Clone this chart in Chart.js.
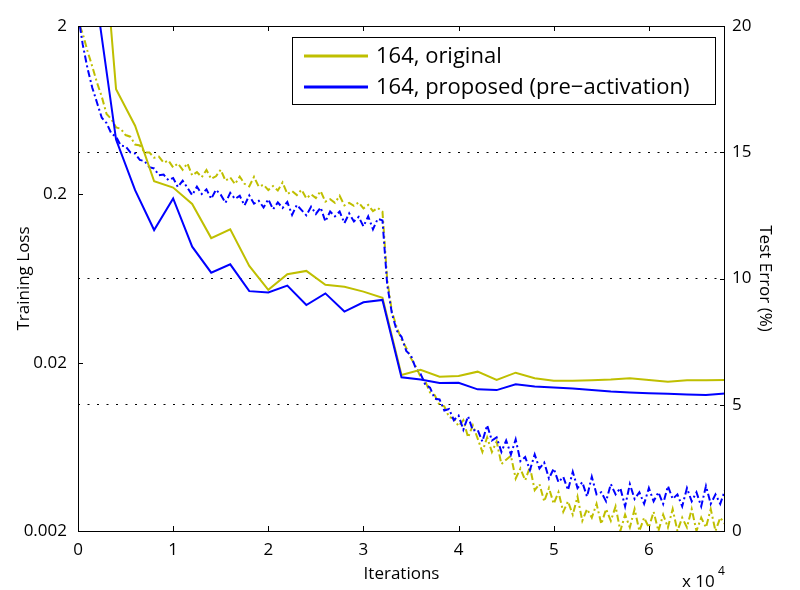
<!DOCTYPE html>
<html>
<head>
<meta charset="utf-8">
<script src="https://cdn.jsdelivr.net/npm/chart.js@4.4.1/dist/chart.umd.min.js"></script>
<style>
  html, body { margin: 0; background: #fff; }
  canvas { display: block; }
</style>
</head>
<body>
<canvas id="chart" width="800" height="590"></canvas>
<script>
// ── Data (iterations in units of 10^4) ───────────
const xTicks = [0, 1, 2, 3, 4, 5, 6];
const lossTicks = [0.002, 0.02, 0.2, 2];
const errTicks = [0, 5, 10, 15, 20];

// test error (%), sampled every 2000 iterations
const testIters = [0.2, 0.4, 0.6, 0.8, 1.0, 1.2, 1.4, 1.6, 1.8, 2.0, 2.2, 2.4, 2.6, 2.8, 3.0, 3.2, 3.4,
  3.6, 3.8, 4.0, 4.2, 4.4, 4.6, 4.8, 5.0, 5.2, 5.4, 5.6, 5.8, 6.0, 6.2, 6.4, 6.6, 6.8];
const origErr = [26.6, 17.5, 16.05, 13.85, 13.6, 12.95, 11.6, 11.95, 10.5, 9.55, 10.17, 10.3, 9.75, 9.67, 9.48, 9.24, 6.18,
  6.38, 6.11, 6.14, 6.31, 5.98, 6.27, 6.05, 5.95, 5.95, 5.97, 6.0, 6.05, 5.98, 5.91, 5.97, 5.97, 5.98];
const propErr = [20.9, 15.5, 13.5, 11.92, 13.17, 11.26, 10.23, 10.56, 9.5, 9.45, 9.72, 8.95, 9.41, 8.69, 9.06, 9.15, 6.09,
  6.0, 5.86, 5.87, 5.61, 5.58, 5.81, 5.72, 5.68, 5.64, 5.58, 5.52, 5.49, 5.46, 5.44, 5.41, 5.39, 5.45];

// training loss
const lossIters = [
  0.02, 0.05, 0.10, 0.15, 0.20, 0.25, 0.30, 0.35, 0.40, 0.45, 0.50, 0.55, 0.60, 0.65, 0.70, 0.75, 0.80, 0.85, 0.90, 0.95,
  1.00, 1.05, 1.10, 1.15, 1.20, 1.25, 1.30, 1.35, 1.40, 1.45, 1.50, 1.55, 1.60, 1.65, 1.70, 1.75, 1.80, 1.85, 1.90, 1.95,
  2.00, 2.05, 2.10, 2.15, 2.20, 2.25, 2.30, 2.35, 2.40, 2.45, 2.50, 2.55, 2.60, 2.65, 2.70, 2.75, 2.80, 2.85, 2.90, 2.95,
  3.00, 3.05, 3.10, 3.15, 3.20, 3.25, 3.30, 3.35, 3.40, 3.45, 3.50, 3.55, 3.60, 3.65, 3.70, 3.75, 3.80, 3.85, 3.90, 3.95,
  4.00, 4.05, 4.10, 4.15, 4.20, 4.25, 4.30, 4.35, 4.40, 4.45, 4.50, 4.55, 4.60, 4.65, 4.70, 4.75, 4.80, 4.85, 4.90, 4.95,
  5.00, 5.05, 5.10, 5.15, 5.20, 5.25, 5.30, 5.35, 5.40, 5.45, 5.50, 5.55, 5.60, 5.65, 5.70, 5.75, 5.80, 5.85, 5.90, 5.95,
  6.00, 6.05, 6.10, 6.15, 6.20, 6.25, 6.30, 6.35, 6.40, 6.45, 6.50, 6.55, 6.60, 6.65, 6.70, 6.75, 6.80,
];
const origLoss = [
  2.0, 1.8, 1.42, 1.15, 0.92, 0.76, 0.6, 0.56, 0.5, 0.49, 0.45, 0.44, 0.395, 0.39, 0.355, 0.355, 0.33, 0.335, 0.308, 0.318,
  0.289, 0.305, 0.28, 0.306, 0.259, 0.271, 0.253, 0.279, 0.247, 0.256, 0.28, 0.241, 0.252, 0.23, 0.255, 0.231, 0.223, 0.254, 0.222, 0.228,
  0.212, 0.224, 0.211, 0.235, 0.201, 0.209, 0.198, 0.213, 0.189, 0.2, 0.19, 0.209, 0.181, 0.187, 0.178, 0.196, 0.172, 0.178, 0.171, 0.179,
  0.165, 0.173, 0.159, 0.166, 0.158, 0.062, 0.04, 0.0325, 0.0275, 0.0245, 0.0212, 0.019, 0.0165, 0.0155, 0.0133, 0.0128, 0.0112, 0.011, 0.0095, 0.0093,
  0.0084, 0.0091, 0.0072, 0.0085, 0.0071, 0.0059, 0.0072, 0.0059, 0.0068, 0.005, 0.0053, 0.0056, 0.0041, 0.0047, 0.004, 0.0048, 0.0035, 0.0038, 0.003, 0.0036,
  0.0029, 0.0034, 0.0026, 0.003, 0.0025, 0.0032, 0.0023, 0.0027, 0.0024, 0.0029, 0.0022, 0.0027, 0.0023, 0.0028, 0.002, 0.0025, 0.0021, 0.0027, 0.002, 0.0024,
  0.0021, 0.0026, 0.002, 0.0025, 0.0021, 0.0027, 0.002, 0.0024, 0.0021, 0.0027, 0.002, 0.0024, 0.0021, 0.0027, 0.002, 0.0024, 0.0022,
];
const propLoss = [
  2.0, 1.55, 1.12, 0.86, 0.70, 0.57, 0.53, 0.46, 0.44, 0.39, 0.385, 0.355, 0.35, 0.32, 0.315, 0.29, 0.285, 0.26, 0.262, 0.243,
  0.25, 0.221, 0.241, 0.219, 0.198, 0.222, 0.201, 0.214, 0.188, 0.213, 0.199, 0.178, 0.204, 0.188, 0.196, 0.172, 0.197, 0.176, 0.183, 0.167,
  0.187, 0.163, 0.179, 0.166, 0.18, 0.151, 0.173, 0.161, 0.15, 0.169, 0.153, 0.167, 0.138, 0.158, 0.148, 0.158, 0.135, 0.154, 0.138, 0.147,
  0.129, 0.148, 0.124, 0.143, 0.14, 0.058, 0.039, 0.031, 0.0285, 0.0235, 0.022, 0.0185, 0.0172, 0.0148, 0.0142, 0.0122, 0.0121, 0.0104, 0.0106, 0.0091,
  0.0097, 0.008, 0.0096, 0.0079, 0.008, 0.0068, 0.0085, 0.0069, 0.0072, 0.0059, 0.0069, 0.0057, 0.007, 0.0052, 0.0055, 0.0046, 0.0057, 0.0047, 0.0051, 0.0041,
  0.0047, 0.0039, 0.0042, 0.0035, 0.0045, 0.0036, 0.0039, 0.0032, 0.0042, 0.0033, 0.0034, 0.003, 0.0038, 0.0033, 0.0036, 0.0028, 0.0038, 0.0031, 0.0034, 0.0029,
  0.0036, 0.003, 0.0034, 0.0029, 0.0037, 0.0031, 0.0033, 0.0028, 0.0036, 0.003, 0.0034, 0.0028, 0.0037, 0.0029, 0.0033, 0.0029, 0.0035,
];

const OLIVE = '#bfbf00';
const BLUE = '#0000ff';
const FONT = '"Open Sans", sans-serif';

Chart.defaults.font.family = FONT;
Chart.defaults.font.size = 17;
Chart.defaults.color = '#000';

const pts = (xs, ys) => ys.map((y, i) => ({ x: xs[i], y }));
const fixTicks = (vals) => (scale) => { scale.ticks = vals.map((v) => ({ value: v })); };

// ── Box, inward tick marks, legend, exponent ─────
const decorPlugin = {
  id: 'decor',
  afterDatasetsDraw(chart) {
    const { ctx, chartArea: a, scales } = chart;
    const len = 5;
    ctx.save();
    ctx.strokeStyle = '#000';
    ctx.lineWidth = 1;
    ctx.beginPath();
    xTicks.slice(1).forEach((v) => {
      const px = Math.round(scales.x.getPixelForValue(v)) + 0.5;
      ctx.moveTo(px, a.bottom); ctx.lineTo(px, a.bottom - len);
      ctx.moveTo(px, a.top); ctx.lineTo(px, a.top + len);
    });
    lossTicks.slice(1, -1).forEach((v) => {
      const py = Math.round(scales.y.getPixelForValue(v)) + 0.5;
      ctx.moveTo(a.left, py); ctx.lineTo(a.left + len, py);
    });
    errTicks.slice(1, -1).forEach((v) => {
      const py = Math.round(scales.y2.getPixelForValue(v)) + 0.5;
      ctx.moveTo(a.right, py); ctx.lineTo(a.right - len, py);
    });
    ctx.stroke();
    ctx.strokeRect(Math.round(a.left) + 0.5, Math.round(a.top) + 0.5,
      Math.round(a.right - a.left) - 1, Math.round(a.bottom - a.top));

    // legend
    const lx = 292, ly = 37, lw = 423, lh = 67;
    ctx.fillStyle = '#fff';
    ctx.fillRect(lx, ly, lw, lh);
    ctx.strokeRect(lx + 0.5, ly + 0.5, lw, lh);
    const entries = chart.data.datasets.filter((d) => d.showInLegend);
    entries.forEach((d, i) => {
      const y = 56 + i * 31;
      ctx.strokeStyle = d.borderColor;
      ctx.lineWidth = 3;
      ctx.beginPath();
      ctx.moveTo(304, y); ctx.lineTo(368, y);
      ctx.stroke();
      ctx.fillStyle = '#000';
      ctx.font = '22px ' + FONT;
      ctx.textBaseline = 'middle';
      ctx.textAlign = 'left';
      ctx.fillText(d.label, 376, y + 1);
    });

    // x 10^4
    ctx.fillStyle = '#000';
    ctx.textBaseline = 'alphabetic';
    ctx.font = '17px ' + FONT;
    ctx.fillText('x 10', 682, 587);
    ctx.font = '12px ' + FONT;
    ctx.fillText('4', 718, 575);
    ctx.restore();
  },
};

new Chart(document.getElementById('chart'), {
  type: 'line',
  data: {
    datasets: [
      {
        label: '164, original', showInLegend: true,
        data: pts(testIters, origErr), yAxisID: 'y2',
        borderColor: OLIVE, borderWidth: 2, pointRadius: 0, order: 1,
      },
      {
        label: '164, proposed (pre\u2212activation)', showInLegend: true,
        data: pts(testIters, propErr), yAxisID: 'y2',
        borderColor: BLUE, borderWidth: 2, pointRadius: 0, order: 0,
      },
      {
        label: 'loss original',
        data: pts(lossIters, origLoss), yAxisID: 'y',
        borderColor: OLIVE, borderWidth: 2, borderDash: [7, 3, 2, 3], pointRadius: 0, order: 3,
      },
      {
        label: 'loss proposed',
        data: pts(lossIters, propLoss), yAxisID: 'y',
        borderColor: BLUE, borderWidth: 2, borderDash: [7, 3, 2, 3], pointRadius: 0, order: 2,
      },
    ],
  },
  options: {
    responsive: false,
    animation: false,
    layout: { padding: { top: 26, right: 0, bottom: 0, left: 0 } },
    plugins: { legend: { display: false }, tooltip: { enabled: false } },
    scales: {
      x: {
        type: 'linear', position: 'bottom', min: 0, max: 6.8,
        afterBuildTicks: fixTicks(xTicks),
        afterFit: (s) => { s.height = 59; },
        grid: { display: false, drawTicks: false }, border: { display: false },
        ticks: { padding: 9, maxRotation: 0 },
        title: { display: true, text: 'Iterations', padding: { top: 0, bottom: 6 } },
      },
      y: {
        type: 'logarithmic', position: 'left', min: 0.002, max: 2,
        afterBuildTicks: fixTicks(lossTicks),
        afterFit: (s) => { s.width = 78; },
        grid: { display: false, drawTicks: false }, border: { display: false },
        ticks: { padding: 11, callback: (v) => String(v) },
        title: { display: true, text: 'Training Loss', padding: { top: 14 } },
      },
      y2: {
        type: 'linear', position: 'right', min: 0, max: 20,
        afterBuildTicks: fixTicks(errTicks),
        afterFit: (s) => { s.width = 75; },
        grid: {
          drawTicks: false, lineWidth: 1,
          color: (c) => (c.tick && c.tick.value > 0 && c.tick.value < 20 ? '#000' : 'rgba(0,0,0,0)'),
        },
        border: { display: false, dash: [2, 7.5] },
        ticks: { padding: 7 },
        title: { display: true, text: 'Test Error (%)', padding: { top: 25 } },
      },
    },
  },
  plugins: [decorPlugin],
});
</script>
</body>
</html>
